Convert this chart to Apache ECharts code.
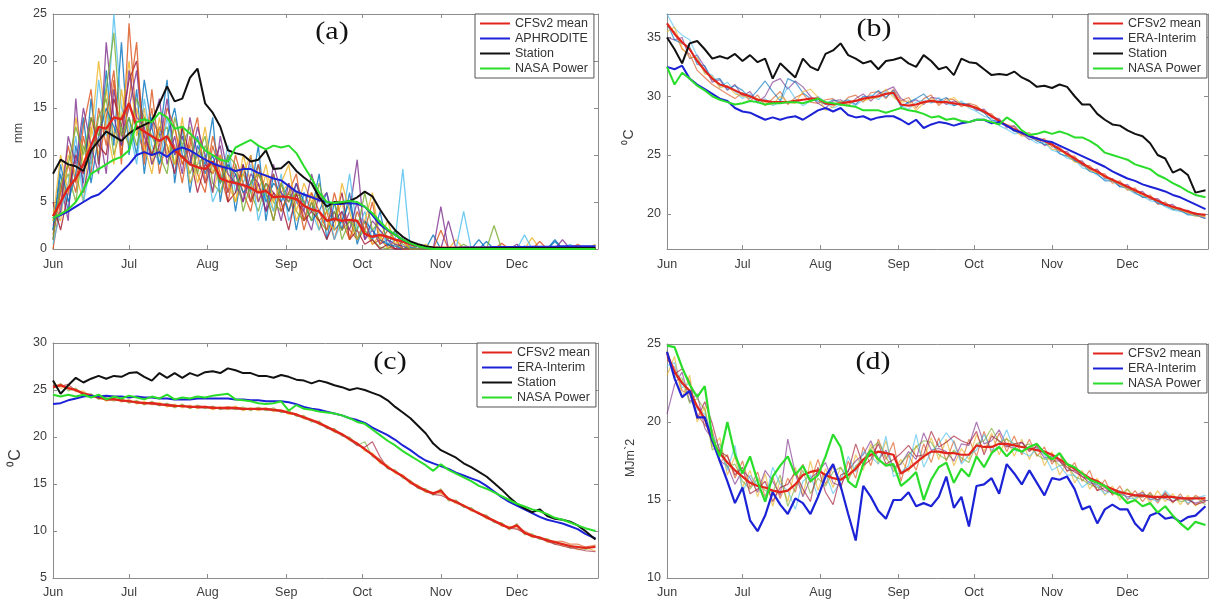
<!DOCTYPE html>
<html>
<head>
<meta charset="utf-8">
<script src="https://cdn.jsdelivr.net/npm/echarts@6/dist/echarts.min.js"></script>
<style>html,body{margin:0;padding:0;background:#fff}#c{width:1213px;height:604px}</style>
</head>
<body>
<div id="c"></div>
<script>
// day index from 1 June (0) to 31 Dec
const days = [0,3,6,9,12,15,18,21,24,27,30,33,36,39,42,45,48,51,54,57,60,63,66,69,72,75,78,81,84,87,90,93,96,99,102,105,108,111,114,117,120,123,126,129,132,135,138,141,144,147,150,153,156,159,162,165,168,171,174,177,180,183,186,189,192,195,198,201,204,207,210,214];
const monthStarts = [0,30,61,92,122,153,183];
const monthNames = ['Jun','Jul','Aug','Sep','Oct','Nov','Dec'];

// ---------- (a) precipitation, mm ----------
const aYTicks = [0,5,10,15,20,25];
const aCFS = [3.5,5,6.5,7.5,9,11,13,12.8,14,13.8,15.5,13,
  12.5,12,11.5,12,10.5,9.8,9,8.7,8.5,9.3,7.5,7.2,
  7,6.8,6.5,6,6.2,5.5,5.6,5.5,5.3,4.6,4.2,4,
  3,3.2,3,3.1,3,1.6,1.3,1.5,1.3,1,0.8,0.5,
  0.3,0.2,0.15,0.15,0.15,0.15,0.15,0.15,0.15,0.15,0.15,0.15,
  0.15,0.15,0.15,0.15,0.15,0.15,0.15,0.15,0.15,0.15,0.15,0.15];
const aAPHRO = [3.3,3.6,4,4.5,5,5.5,5.8,6.5,7.3,8.2,9,10,
  10.3,10,10.3,9.8,10.5,10.8,10.5,10,9.5,9.1,8.8,8.6,
  8.3,8.5,8.5,8.1,7.8,7.5,7.3,6.7,6.1,5.8,5.5,5.2,
  5,4.8,4.8,4.9,4.8,4.5,3.6,2.6,2,1.5,1,0.6,
  0.3,0.15,0.1,0.1,0.1,0.1,0.15,0.15,0.15,0.15,0.2,0.2,
  0.2,0.2,0.2,0.25,0.25,0.25,0.25,0.3,0.3,0.3,0.3,0.3];
const aStation = [8,9.5,9,8.8,8.3,10.5,11.5,12.5,12,11.5,12.3,12.8,
  13.2,13.6,15.5,17.3,15.7,16,18.2,19.2,15.5,14.5,13,10.5,
  10.2,10,9.3,9.5,10.5,8.5,8.6,9.3,8.3,7.6,7,5.5,
  4.5,5,4.9,5.1,5.5,6.1,5.6,4.2,3,2,1.3,0.8,
  0.5,0.3,0.15,0.1,0.1,0.1,0.1,0.1,0.1,0.1,0.1,0.1,
  0.1,0.1,0.1,0.1,0.1,0.1,0.1,0.1,0.1,0.1,0.1,0.1];
const aNASA = [3.3,3.7,4.2,5,6.3,8,8.5,9,9.5,9.8,10.5,13.5,
  13.8,13.5,14.5,14,12.8,13,12.3,11.5,10.5,10,9.5,9.3,
  10.8,11.2,11.6,11,10.6,11,10.8,11,10.2,8.8,7.5,6,
  5,4.9,5,5.1,5,4.5,3.8,2.9,2.1,1.5,1,0.6,
  0.3,0.1,0,0,0,0,0,0,0,0,0,0,
  0,0,0,0,0,0,0,0,0,0,0,0];
const aEns1 = [2,8,4,11,7,16,9,19,11,22,10,17, 8,14,12,18,7,13,6,11,9,14,5,10, 4,9,6,11,3,8,5,7,2,6,4,8, 1,5,2,6,0.5,3,1,4,0.3,2,0,0.5, 0,0,1.5,0,0,0.2,0,0,0,0.8,0,0, 0,0,0.3,0,0,0,1,0,0,0,0,0.4];
const aEns2 = [0,5,9,6,12,8,15,11,18,9,24,13, 10,15,8,12,11,7,12,8,6,11,8,5, 9,6,4,8,6,3,7,4,6,2,5,3, 4,1,4,2,1,3,0.5,1,0.2,0,0.8,0, 0,0,0,2,0,0,0,0,0,0,0,0.6, 0,0,0,0,0,0,0,0,0,0.5,0,0];
const aEns3 = [4,3,10,8,5,13,10,17,12,14,20,12, 15,9,14,10,13,9,11,7,10,6,9,8, 5,10,7,5,8,4,6,7,3,5,6,2, 4,3,5,1,3,2,0.5,1.5,0,1,0,0.3, 0,0,0,0,0,1,0,0,0,0,0,0, 0,0,0,1.2,0,0,0,0,0,0,0,0.2];
const aEns4 = [1,7,3,16,6,10,13,8,17,12,15,19, 11,13,16,9,12,8,14,10,7,9,11,6, 8,5,10,5,7,6,3,7,5,4,2,6, 3,4,2,4,9.5,1,2,0.5,1,0,0,0, 0,0,0,4.5,0,0,0,0,0,0,0,0, 0,0.5,0,0,0,0,0,0,0,0,0,0];
const aEns5 = [3,6,8,5,11,9,14,16,10,13,11,16, 14,10,12,13,9,11,8,10,12,7,6,9, 7,8,6,4,7,5,4,6,4,3,5,3, 2,4,2,3,1,2,1,0.2,0,0.5,0,0, 0,0,0,0,0,0,0.5,0,0,0,0,0, 0,0,0,0,0,0,0,0,0,0,0,0];
const aEns6 = [0.5,4,7,12,5,9,18,12,25,15,13,9, 16,11,9,14,10,12,7,9,10,5,7,11, 6,7,9,3,6,4,8,3,5,6,4,2, 5,1,3,8,2,4,1,2,0.5,1,8.5,0, 0,0,0,0,0,0,4,0,0,0,0,0, 0,0,1.5,0,0,0,0,0,0.5,0,0,0];
const aEns7 = [5,2,6,10,8,14,11,10,16,13,18,20, 12,10,13,11,8,13,10,6,9,8,10,5, 6,9,5,7,4,6,5,2,6,3,4,3, 1,3,6,1,2,0.5,1,0,0.5,0,0,0, 0,0,0,0,0,0,0,0,0,0,0,0, 0,0,0,0,0,0,0,0,0,0,0,0];
const aEns8 = [2,9,5,8,14,7,12,15,13,11,14,10, 18,13,9,12,15,10,9,12,8,10,7,9, 8,6,7,9,5,7,6,4,7,5,3,4, 6,2,3,5,1,3,2,1,0.5,0.3,0,0.2, 0,0,0,0,0,0,0,0,1,0,0,0, 0,0,0,0,0,0,0.8,0,0,0,0,0];
const aEns9 = [1.5,6,11,7,13,17,9,14,19,10,16,22, 9,17,10,15,13,9,11,14,7,12,9,6, 10,7,5,9,6,8,4,6,8,3,6,4, 2,6,3,1,4,2,5,0.5,2,1,0,0, 0,0,0,0,0,0,0,0,0,0,0,0, 0,0,0,0,0.8,0,0,0,0,0,0,0];
const aEns10 = [3,10,6,14,9,12,20,13,9,17,12,15, 11,8,13,11,9,14,7,9,13,8,10,7, 5,8,10,6,9,5,7,9,4,7,5,6, 3,2,7,4,1,3,6,1,3,0.5,1,0, 0,0.5,0,0,0,0,0,0,0,0,0,0, 0,0,0,0,0,0,0,0,0,0,0,0.5];
const aEns11 = [2.5,4,12,9,15,11,8,22,14,11,19,14, 13,9,11,16,10,12,9,13,10,6,12,8, 7,5,8,7,4,9,6,5,7,4,8,5, 6,3,4,2,5,1,3,2,1,0.5,0.3,0, 0,0,0,0,3,0,0,0,0,0,0,0, 0,0,0,0,0,0,0,1,0,0,0,0];
const aEns12 = [1,7,9,13,10,14,12,17,23,12,14,11, 14,12,10,8,14,11,13,8,11,9,7,10, 9,4,7,8,6,3,7,5,6,5,3,7, 4,5,1,3,2,6,2,3,1,2,0.5,0, 0,0,0,0,0,0,0,0,0,0,2.5,0, 0,0,0,0,0,0,0,0,0,0,0,0];

// ---------- (b) maximum temperature ----------
const bYTicks = [20,25,30,35];
const bCFS = [36.2,35.3,34.6,34,33,32.2,31.5,31,30.8,30.5,30.2,30,
  29.7,29.6,29.5,29.5,29.5,29.6,29.7,29.8,29.8,29.4,29.3,29.4,
  29.5,29.6,29.8,29.9,30,30.2,30.3,29.3,29.2,29.3,29.5,29.6,
  29.5,29.5,29.4,29.3,29.2,29,28.7,28.3,27.9,27.5,27.2,26.9,
  26.6,26.4,26.2,25.9,25.5,25.1,24.7,24.3,23.9,23.6,23.2,22.9,
  22.6,22.3,22,21.7,21.4,21.1,20.8,20.6,20.4,20.2,20,19.9];
const bERA = [32.5,32.3,32.6,31.5,31,30.6,30.2,29.8,29.6,29,28.7,28.6,
  28.3,28,28.2,28,28.2,28.3,28,28.4,28.8,29,28.7,29,
  28.4,28.2,28.3,28,28.2,28.3,28.3,28,27.6,28,27.3,27.6,
  27.8,27.7,27.5,27.7,27.8,28,28,27.7,27.8,27.5,27.1,26.9,
  26.6,26.4,26.2,26.1,25.8,25.5,25.2,24.9,24.6,24.3,24,23.6,
  23.3,23,22.8,22.5,22.3,22.1,21.9,21.6,21.4,21.1,20.8,20.4];
const bStation = [35,34,32.8,34.5,34.7,34,33.2,33.4,33.2,33.6,33,33.5,
  32.9,33.2,31.5,32.8,32.2,31.6,33.2,32.5,32.2,33.6,33.9,34.5,
  33.5,33.2,32.8,33,32.3,33,33.1,33.3,32.8,32.5,33.5,33,
  32.3,32.5,31.8,33.2,32.9,32.8,32.3,31.8,31.9,31.8,32.1,31.6,
  31.3,30.8,30.9,30.7,31,30.8,30,29.3,29.3,28.5,28,27.6,
  27.5,27.1,26.8,26.6,26,25,24.7,23.5,23.8,23.3,21.8,22];
const bNASA = [32.5,31,32,31.5,30.9,30.5,30,29.7,29.5,29.3,29.4,29.6,
  29.5,29.3,29.4,29.4,29.5,29.5,29.4,29.6,29.8,29.5,29.4,29.3,
  29.2,29.1,28.8,28.8,28.8,28.6,28.8,29,28.8,28.7,28.5,28.2,
  28.3,28,28.1,27.9,27.8,28,28,27.8,27.6,28.2,27.8,27.1,
  26.7,26.8,27,26.8,27,26.8,26.5,26.5,26.2,25.8,25.2,25,
  24.8,24.6,24.2,24,23.8,23.3,23,22.6,22.3,21.9,21.6,21.4];
const bEns1 = [36,35.5,34,33.6,32.2,31.6,31,30.6,30.2,29.8,30.3,29.6, 30.1,29.2,29.8,30.4,29.3,29.9,30.2,29.5,29.4,29.7,29.8,29.2, 29.9,30.1,29.5,30.3,30.4,29.8,30.6,29.6,29.9,29,29.8,30.1, 29.2,29.8,29.7,29.1,29.4,29.2,28.6,28.5,27.8,27.6,27.4,26.7, 26.9,26.2,26.4,25.7,25.7,24.9,24.9,24.1,24.1,23.4,23.4,22.6, 22.8,22,22.2,21.4,21.6,20.8,21,20.4,20.5,20,20.1,19.7];
const bEns2 = [35,34.8,35,33.2,33.5,32.5,31.2,31.4,30.5,31,30,30.4, 29.5,30,31.2,31.5,30.6,31.3,30.8,30,29.4,29,29.6,29.7, 29.2,29.8,30.2,29.6,30.2,30.5,30.8,29.8,29.4,29.7,29.3,29.9, 29.8,29.3,29.6,29.4,29.3,28.8,28.9,28.2,28.1,27.3,27.5,26.8, 26.3,26.5,25.8,26,25.3,25.3,24.5,24.5,23.7,23.8,23,23, 22.3,22.5,21.8,21.9,21.2,21.3,20.7,20.8,20.2,20.3,19.9,19.6];
const bEns3 = [37,35.8,35.2,34.8,33.4,32,31.8,30.8,31.2,30.4,29.8,30.2, 29.4,29.8,29.2,29.5,30.8,29.8,29.2,29.6,30,29.5,29,29.3, 29.6,29.2,29.7,30.1,29.7,30.4,30.1,29.2,28.9,29.5,29.7,29.4, 29.9,29.4,29.2,29.6,29,28.7,28.3,28.1,27.5,27.2,26.8,26.9, 26.4,26,26.1,25.4,25.2,24.7,24.6,23.9,23.7,23.3,22.9,22.9, 22.4,22.1,21.7,21.5,21.1,21,20.6,20.3,20.2,20,19.8,19.9];
const bEns4 = [36.2,34.8,34.5,34.2,32.7,32.6,31.4,31.5,30.6,30.9,30.5,29.8, 30.5,31.3,30.4,29.6,31.5,31.2,30.3,29.8,29.6,29.3,29.7,29.5, 29.7,29.3,30,29.9,30.5,29.9,30.5,29.1,29.5,29.8,30.2,29.5, 29.6,29.9,29.2,29.4,29.3,28.9,28.6,27.9,28,27.5,27,26.9, 26.6,26.2,25.9,25.9,25.1,24.9,24.5,24.2,23.6,23.4,22.8,22.8, 22.3,22.2,21.8,21.4,21.4,20.9,20.7,20.4,20.3,19.9,19.9,19.6];
const bEns5 = [35.5,35.9,34.1,33.3,33.3,31.9,31.7,30.7,30.9,30.2,30,29.9, 29.8,29.5,29.3,30,29.5,29.4,30.4,30.6,29.9,28.8,29.1,29.6, 29.3,29.7,29.6,29.8,29.9,30.6,29.9,29.5,29.6,28.8,29.4,29.8, 29.4,29.6,29.9,29.3,29.1,29.1,28.7,28.3,27.9,27.6,27.1,26.6, 26.7,26.3,26.2,25.5,25.4,25,24.4,24.3,23.7,23.5,23.1,22.8, 22.5,22.1,21.9,21.6,21.3,21.1,20.8,20.5,20.3,20.1,19.8,19.8];

// ---------- (c) minimum temperature ----------
const cYTicks = [5,10,15,20,25,30];
const cCFS = [25.3,25.5,25.2,25,24.6,24.4,24.2,24,24,23.9,23.8,23.7,
  23.6,23.6,23.5,23.4,23.3,23.3,23.2,23.2,23.2,23.1,23.1,23.1,
  23.1,23,23,23,23,22.9,22.8,22.6,22.4,22.1,21.8,21.5,
  21.1,20.7,20.3,19.8,19.3,18.7,18.1,17.4,16.8,16.3,15.8,15.2,
  14.7,14.3,14,14.3,13.4,13.1,12.7,12.3,11.9,11.5,11.1,10.7,
  10.3,10.6,9.8,9.5,9.3,9,8.8,8.6,8.4,8.3,8.2,8.3];
const cERA = [23.5,23.6,23.9,24.1,24.3,24.4,24.3,24.4,24.3,24.3,24.2,24.3,
  24.2,24.2,24.1,24.1,24,24,24,24.1,24.1,24.1,24.1,24.1,
  24,24,23.9,23.9,23.8,23.8,23.8,23.7,23.5,23.2,23,22.9,
  22.7,22.5,22.3,22,21.8,21.5,21,20.6,20.2,19.7,19.1,18.6,
  18,17.5,17.2,16.9,16.6,16.2,15.9,15.6,15.3,14.8,14.2,13.6,
  13.1,12.7,12.3,11.9,11.5,11.2,11,10.8,10.5,10.2,9.7,9.2];
const cStation = [26,24.6,25.5,26.3,25.8,26.2,26.5,26.2,26.5,26.4,26.8,26.9,
  26.4,26,26.8,26.3,26.8,26.3,26.8,26.5,26.9,27,26.8,27.3,
  27.1,26.8,26.8,26.5,26.5,26.3,26.6,26.4,26.1,26,25.7,26,
  25.8,25.5,25.3,25,25.2,25,24.7,24.4,23.9,23.2,22.6,22,
  21.2,20.4,19.3,18.6,18.2,17.8,17.2,16.8,16.3,15.8,15.1,14.4,
  13.6,12.9,12.4,12,12.3,11.6,11.3,11.2,11,10.6,10,9.1];
const cNASA = [24.5,24.3,24.5,24.3,24.5,24.2,24.5,24,24.3,24.1,24.4,24.2,
  24,24.3,24.1,24.5,24,24.2,24.1,24.3,24.2,24.4,24.5,24.6,
  24,23.9,23.8,23.6,23.5,23.6,23.8,22.8,23.4,23,22.9,22.7,
  22.6,22.5,22.3,22,21.6,21.4,20.8,20.2,19.6,19.1,18.5,18,
  17.5,17,16.4,17.1,16.5,16.1,15.7,15.3,14.8,14.5,14.1,13.7,
  13.3,12.9,12.6,12.3,12.1,11.8,11.4,11.2,10.9,10.6,10.3,10];
const cEns1 = [25.8,25.2,25.4,24.8,24.9,24.2,24.4,23.8,24.2,23.7,24,23.5, 23.8,23.4,23.7,23.2,23.5,23.1,23.4,23,23.3,22.9,23.2,22.9, 23.3,22.8,23.1,22.8,23.1,22.7,22.9,22.4,22.5,21.9,21.9,21.3, 21.2,20.5,20.4,19.6,19.4,18.5,18.3,17.2,17,16.1,16,15, 14.9,14.1,14.1,14,13.5,12.9,12.8,12.1,12,11.3,11.2,10.5, 10.5,10.3,9.9,9.3,9.4,8.8,8.9,8.4,8.5,8,8.2,7.9];
const cEns2 = [25.1,25.7,24.9,25.2,24.4,24.6,24,24.2,23.8,24.1,23.6,23.9, 23.4,23.8,23.3,23.6,23.1,23.5,23,23.4,23,23.3,22.9,23.2, 22.9,23.2,22.8,23.2,22.8,23.1,22.6,22.8,22.2,22.3,21.6,21.7, 20.9,20.9,20.1,20,19.1,19.5,17.9,17.6,16.6,16.5,15.6,15.4, 14.5,14.5,13.8,14.5,13.2,13.3,12.5,12.5,11.8,11.7,10.9,10.9, 10.1,10.8,9.6,9.7,9.1,9.2,8.6,8.7,8.2,8.4,8,8.4];
const cEns3 = [25.5,25.4,25.6,24.9,24.7,24.5,24.1,24.1,24.1,23.8,23.9,23.6, 23.6,23.5,23.4,23.5,23.4,23.2,23.3,23.1,23.1,23.2,23,23, 23,22.9,23,22.9,22.9,22.8,22.7,22.6,22.3,22,21.7,21.4, 21,20.6,20.2,19.7,19.1,18.9,19.5,17.9,16.7,16.3,15.8,15.1, 14.6,14.2,13.9,13.8,13.4,13,12.6,12.2,11.8,11.4,11,10.6, 10.3,10.2,9.8,9.4,9.2,8.9,8.6,8.4,8.2,8.1,7.9,7.8];
const cEns4 = [25.4,25.6,25.1,25,24.7,24.3,24.3,23.9,24,24,23.7,23.8, 23.5,23.7,23.5,23.3,23.2,23.4,23.1,23.3,23.2,23,23.1,23.2, 23.1,23,22.9,23,22.9,22.9,22.8,22.5,22.4,22.1,21.8,21.5, 21.1,20.8,20.3,19.8,19.3,18.7,18.2,17.6,16.9,16.3,15.9,15.3, 14.8,14.3,14,14.1,13.5,13.1,12.7,12.3,11.9,11.6,11.1,10.8, 10.4,10.5,10,9.6,9.3,9.1,8.9,8.9,8.6,8.6,8.3,8.5];

// ---------- (d) solar radiation ----------
const dYTicks = [10,15,20,25];
const dCFS = [24.4,23.2,22.5,22,21,20.2,18.8,18,17.4,16.9,16.5,16.1,
  15.9,15.8,15.6,15.5,15.6,16,16.6,16.8,16.9,16.6,16.4,16.3,
  16.6,17,17.6,17.9,18.1,18,17.9,16.7,17,17.4,17.8,18.1,
  18.1,18,18,17.9,17.9,18.5,18.4,18.4,18.6,18.6,18.5,18.4,
  18.3,18.2,18.1,17.9,17.6,17.3,17,16.7,16.4,16.2,15.9,15.7,
  15.5,15.4,15.3,15.3,15.2,15.2,15.2,15.2,15.1,15.1,15.1,15.1];
const dERA = [24.5,22.8,21.6,22,20.3,20.3,18.8,17.5,16.2,14.8,15.8,13.7,
  13,14,15.5,14.7,14.1,15.1,14.8,14.1,15.2,16.5,17.3,15.9,
  14.1,12.4,15.9,15.2,14.3,13.8,15,15,15.5,14.6,14.8,14.6,
  15.2,16.5,14.5,15.2,13.3,15.9,16,16.4,15.4,17.3,16.7,16,
  16.9,16.1,15.3,16.4,16.3,16.5,15.7,14.4,14.6,13.5,14.4,14.7,
  14.4,14.4,13.5,13,14,14.2,13.8,13.9,13.6,13.9,14,14.6];
const dNASA = [24.9,24.8,23.5,22.4,21.6,22.3,19,17.8,20,17.9,16.7,17.8,
  16.2,14.9,16.5,17.2,17.8,16.6,17.2,16.2,16.6,17.8,19.2,18.4,
  16.2,15.8,17.3,18.2,17.6,17.2,17.3,15.9,16.3,16.8,15,16.3,
  17.1,17.4,16.1,17,16.5,17.8,17.1,18,18.4,17.8,18.3,18.1,
  18.4,18.6,18,17.6,18,17.3,17.1,16.7,16.3,16.1,15.9,15.5,
  15.3,14.8,15,14.6,14.8,14.2,14.6,14,13.5,13.1,13.6,13.4];
const dEns1 = [24,23.5,22,21.8,20.5,19.8,19.5,17.4,17.9,16.4,17.5,15.8, 16.8,15.2,16.5,15.1,16.4,15.5,17.3,16.1,17.6,16,17.2,15.7, 17.5,16.4,18.4,17.2,18.9,17.6,18.7,16.2,17.9,16.9,18.6,17.4, 19,17.5,18.8,17.4,18.9,17.8,19.4,18,19.3,18.1,19.1,17.9, 18.9,17.8,18.4,17.3,18,16.8,17.4,16.2,16.9,15.6,16.3,15.3, 15.9,15,15.6,14.9,15.5,14.8,15.5,14.8,15.4,14.7,15.3,14.9];
const dEns2 = [23,24.2,21.5,23,20,21,18.4,19,16.6,17.8,15.8,16.9, 15.2,16.7,14.6,16.3,14.9,17.1,15.3,17.5,15.6,17,15.8,17.1, 16.2,17.9,16.9,18.6,17.3,18.8,16.9,17.6,16.8,18.5,17.6,19, 17.6,18.9,17.2,18.3,17.6,19.2,18.1,19.3,17.9,19,17.8,18.9, 17.6,18.6,17.2,18.1,16.6,17.4,16.1,16.9,15.7,16.4,15.3,15.9, 15,15.7,14.9,15.6,14.8,15.6,14.9,15.4,14.7,15.3,14.6,15.2];
const dEns3 = [20.5,22.4,23.2,21.3,21.8,19.6,18.9,17.5,17.2,16,16.9,16.4, 15.5,16.9,16.2,15.3,18.9,16.7,15.2,16.4,16.8,17.4,16.1,15.9, 16.9,17.5,17.9,18.8,17.6,18.2,17.1,17.3,18.1,17.6,19.3,18.2, 18.3,18.1,17.5,18.6,18.5,20,18.6,18.8,19.5,18.5,18.3,18.7, 18.2,18.4,17.7,17.8,17.5,16.9,16.9,16.5,16.1,16,15.6,15.5, 15.4,15.2,15.3,15.5,15,15.2,15.1,14.9,15.2,15,14.8,15];
const dEns4 = [24.6,22.9,22.8,21.2,21.5,20.8,18.2,18.6,17.1,17.3,16.2,15.7, 16.4,15.6,15.5,16.6,14.6,15.8,16.9,15.4,16.4,15.9,16.8,17.1, 16.3,17.2,17.6,18.3,18.7,17.8,16.8,17.4,17.9,18.4,18.8,18.7, 17.9,17.6,18.2,17.7,17.4,18.6,18.8,19.6,18.7,18.9,18.6,18.4, 18.6,17.9,17.6,17.7,17.2,17.3,16.5,16.3,16,15.8,15.9,15.7, 15.3,15.7,15.2,15.2,15.4,15,15.3,15.2,14.9,15,15.2,14.7];
const dEns5 = [23.6,23.8,22.2,22.5,20.8,20.5,19.2,18.3,16.9,18.5,15.5,16.6, 15.9,15,17.1,16,15.6,14.4,16.2,16.6,15.2,16.7,15.4,16.2, 17.8,16.8,18.1,17.8,17.3,19.1,16.5,16.8,17.2,19.2,17.1,18.1, 18.6,19.3,18.7,17.3,17.9,18.2,19.2,18.2,18.4,19.5,18.2,18.1, 17.8,18.3,17.9,16.9,17.2,16.6,16.6,15.8,16.2,15.9,15.4,15.6, 15.6,15.1,15.1,15.4,15.1,14.9,15.6,15.1,15.2,14.8,15.1,15.3];
const dEns6 = [24.2,23.1,23.4,22.6,20.2,21.3,19.9,18.1,17.8,16.6,17.1,15.4, 15.7,16.2,14.9,15.8,16,16.8,15.7,14.9,17.1,15.5,14.7,16.6, 16.8,18.6,17.2,17.6,18.6,17.3,17.6,18,18.5,17.8,17.9,19.4, 18.4,18.7,19.1,18.8,18.6,19.4,17.9,19.1,18.8,18.4,18.6,18.7, 18.1,18.5,18.1,17.5,17.5,17.1,16.8,16.5,16.3,15.6,15.8,15.4, 15.5,15.4,15.3,15.2,15.3,15,15.4,14.9,15.1,15.1,14.7,14.9];

// ---------- styling ----------
const FONT = '"Liberation Sans", Arial, sans-serif';
const AXIS = '#8c8c8c';
const LABEL = '#3c3c3c';
const RED = '#e2251c', BLUE = '#1c22d6', BLACK = '#111111', GREEN = '#2add2a';
const ENS = ['#0072BD','#D95319','#EDB120','#7E2F8E','#77AC30','#4DBEEE','#A2142F'];

const grids = [
  {left: 53, top: 14, width: 545, height: 235},
  {left: 667, top: 14, width: 541, height: 235},
  {left: 53, top: 343, width: 545, height: 235},
  {left: 667, top: 344, width: 541, height: 234}
];
const yCfg = [
  {min: 0, max: 25, ticks: aYTicks},
  {min: 17, max: 37, ticks: bYTicks},
  {min: 5, max: 30, ticks: cYTicks},
  {min: 10, max: 25, ticks: dYTicks}
];

const xAxes = [], yAxes = [];
[['bottom', true], ['top', false]].forEach(([pos, lab]) => {
  grids.forEach((g, gi) => {
    xAxes.push({
      type: 'value', gridIndex: gi, position: pos, min: 0, max: 215,
      axisLine: {show: true, onZero: false, lineStyle: {color: AXIS, width: 1}},
      axisTick: {show: true, inside: true, length: 4, customValues: monthStarts, lineStyle: {color: AXIS}},
      axisLabel: {show: lab, customValues: monthStarts, formatter: v => monthNames[monthStarts.indexOf(v)],
        color: LABEL, fontSize: 12.5, fontFamily: FONT, margin: gi < 2 ? 9 : 8},
      splitLine: {show: false}
    });
  });
});
[['left', true], ['right', false]].forEach(([pos, lab]) => {
  grids.forEach((g, gi) => {
    const c = yCfg[gi];
    yAxes.push({
      type: 'value', gridIndex: gi, position: pos, min: c.min, max: c.max,
      axisLine: {show: true, onZero: false, lineStyle: {color: AXIS, width: 1}},
      axisTick: {show: true, inside: true, length: 4, customValues: c.ticks, lineStyle: {color: AXIS}},
      axisLabel: {show: lab, customValues: c.ticks, color: LABEL, fontSize: 12.5, fontFamily: FONT, margin: 6},
      splitLine: {show: false}
    });
  });
});

function mk(name, gi, arr, color, width, opacity, z) {
  return {
    type: 'line', name: name, xAxisIndex: gi, yAxisIndex: gi,
    data: days.map((d, i) => [d, arr[i]]),
    symbol: 'none', showSymbol: false, color: color, itemStyle: {color: color},
    lineStyle: {color: color, width: width, opacity: opacity},
    z: z, silent: true, animation: false
  };
}

const series = [];
[aEns1, aEns2, aEns3, aEns4, aEns5, aEns6, aEns7, aEns8, aEns9, aEns10, aEns11, aEns12]
  .forEach((a, k) => series.push(mk('a-ens' + k, 0, a, ENS[k % 7], 1.3, 0.8, 2)));
[bEns1, bEns2, bEns3, bEns4, bEns5].forEach((a, k) => series.push(mk('b-ens' + k, 1, a, ENS[(k * 2 + 1) % 7], 1.2, 0.65, 2)));
[cEns1, cEns2, cEns3, cEns4].forEach((a, k) => series.push(mk('c-ens' + k, 2, a, ENS[(k * 2 + 2) % 7], 1.2, 0.65, 2)));
[dEns1, dEns2, dEns3, dEns4, dEns5, dEns6].forEach((a, k) => series.push(mk('d-ens' + k, 3, a, ENS[(k + 1) % 7], 1.2, 0.65, 2)));

series.push(mk('CFSv2 mean', 0, aCFS, RED, 2.4, 1, 3));
series.push(mk('APHRODITE', 0, aAPHRO, BLUE, 2, 1, 3));
series.push(mk('Station', 0, aStation, BLACK, 2, 1, 3));
series.push(mk('NASA Power', 0, aNASA, GREEN, 2, 1, 3));

series.push(mk('CFSv2 mean', 1, bCFS, RED, 2.2, 1, 3));
series.push(mk('ERA-Interim', 1, bERA, BLUE, 2, 1, 3));
series.push(mk('Station', 1, bStation, BLACK, 2, 1, 3));
series.push(mk('NASA Power', 1, bNASA, GREEN, 2, 1, 3));

series.push(mk('CFSv2 mean', 2, cCFS, RED, 2.2, 1, 3));
series.push(mk('ERA-Interim', 2, cERA, BLUE, 2, 1, 3));
series.push(mk('Station', 2, cStation, BLACK, 2, 1, 3));
series.push(mk('NASA Power', 2, cNASA, GREEN, 2, 1, 3));

series.push(mk('CFSv2 mean', 3, dCFS, RED, 2.2, 1, 3));
series.push(mk('ERA-Interim', 3, dERA, BLUE, 2.2, 1, 3));
series.push(mk('NASA Power', 3, dNASA, GREEN, 2.2, 1, 3));

function legend(left, top, names) {
  return {
    left: left, top: top, orient: 'vertical', selectedMode: false,
    data: names, icon: 'rect', itemWidth: 30, itemHeight: 2, itemGap: 2,
    padding: [3, 6, 3, 5], backgroundColor: '#fff', borderColor: '#555', borderWidth: 1,
    textStyle: {fontSize: 12.5, fontFamily: FONT, color: '#333', lineHeight: 13}
  };
}

function letter(txt, x, y) {
  return {type: 'text', x: x, y: y, scaleX: 1.2, z: 10,
    style: {text: txt, fontSize: 25, fontFamily: '"Liberation Serif", "Times New Roman", serif', fill: '#111', align: 'center', verticalAlign: 'middle'}};
}
function yname(txt, x, y, size) {
  return {type: 'text', x: x, y: y, rotation: Math.PI / 2, z: 10,
    style: {text: txt, fontSize: size, fontFamily: FONT, fill: LABEL, align: 'center', verticalAlign: 'middle'}};
}

const chart = echarts.init(document.getElementById('c'), null, {renderer: 'canvas'});
chart.setOption({
  animation: false,
  backgroundColor: '#fff',
  grid: grids,
  xAxis: xAxes,
  yAxis: yAxes,
  legend: [
    legend(475, 14, ['CFSv2 mean', 'APHRODITE', 'Station', 'NASA Power']),
    legend(1088, 14, ['CFSv2 mean', 'ERA-Interim', 'Station', 'NASA Power']),
    legend(477, 343, ['CFSv2 mean', 'ERA-Interim', 'Station', 'NASA Power']),
    legend(1088, 344, ['CFSv2 mean', 'ERA-Interim', 'NASA Power'])
  ],
  graphic: [
    letter('(a)', 332, 32),
    letter('(b)', 874, 29),
    letter('(c)', 390, 362),
    letter('(d)', 873, 362),
    yname('mm', 19, 133, 12),
    yname('\u2070C', 629, 137, 14),
    yname('\u2070C', 16, 458, 16),
    yname('MJm`2', 631, 458, 12.5)
  ],
  series: series
});
</script>
</body>
</html>
